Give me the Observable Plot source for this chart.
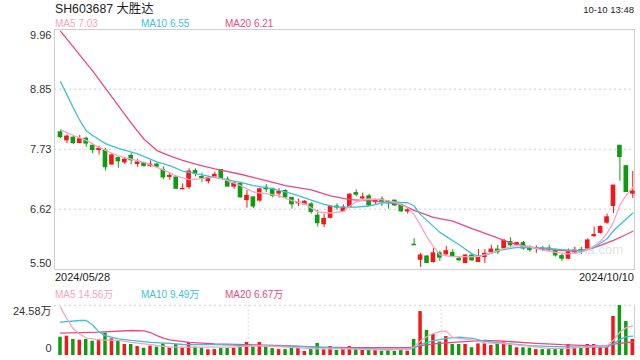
<!DOCTYPE html>
<html><head><meta charset="utf-8">
<script src="https://cdn.jsdelivr.net/npm/d3@7"></script>
<script src="https://cdn.jsdelivr.net/npm/@observablehq/plot@0.6"></script>
<style>
body{margin:0;background:#fff;font-family:"Liberation Sans",Arial,"Noto Sans CJK SC",sans-serif;}
#c{position:relative;width:640px;height:360px;overflow:hidden;background:#fff;}
.t{position:absolute;white-space:nowrap;line-height:1;}
svg{position:absolute;left:0;}
</style></head><body><div id="c"></div>
<script>
// ---------- data ----------
const title = "SH603687 大胜达";
const stamp = "10-10 13:48";
const dateLabels = ["2024/05/28", "2024/10/10"];
const maNames = ["MA5", "MA10", "MA20"];
const maLast = [7.03, 6.55, 6.21];
const volMaLast = [14.56, 9.49, 6.67];
const priceTicks = [9.96, 8.85, 7.73, 6.62, 5.50];
const volTicks = [0, 24.58];
const volGridIdx = [29.2, 59.2];
const watermark = "sina.com";

const opens = [8.05,7.90,7.95,7.85,7.93,7.80,7.72,7.71,7.45,7.57, 7.49,7.61,7.46,7.48,7.42,7.45,7.35,7.22,7.21,6.99, 7.03,7.33,7.22,7.14,7.21,7.35,7.17,7.04,7.09,6.79, 6.84,6.78,7.02,7.00,6.91,6.96,6.83,6.73,6.71,6.71, 6.50,6.34,6.46,6.67,6.58,6.66,6.92,6.82,6.86,6.75, 6.80,6.76,6.78,6.68,6.58,5.96,5.68,5.74,5.64,5.80, 5.78,5.81,5.70,5.62,5.76,5.64,5.73,5.82,5.87,5.89, 6.01,5.96,5.99,5.89,5.88,5.89,5.89,5.85,5.75,5.70, 5.82,5.86,5.89,6.12,6.18,6.37,6.68,7.80,7.42,6.91];
const highs = [8.08,8.00,7.97,7.99,7.96,7.81,7.79,7.75,7.66,7.59, 7.58,7.66,7.55,7.49,7.52,7.47,7.41,7.30,7.23,7.09, 7.37,7.37,7.29,7.23,7.31,7.35,7.22,7.13,7.12,6.97, 6.85,7.01,7.08,7.00,7.00,6.98,6.84,6.81,6.78,6.74, 6.60,6.53,6.68,6.72,6.70,6.91,6.98,6.92,6.90,6.81, 6.85,6.78,6.79,6.70,6.65,6.07,5.80,5.76,5.89,5.84, 5.93,5.87,5.72,5.77,5.78,5.87,5.87,5.95,5.95,6.06, 6.09,6.01,6.02,5.94,5.94,5.93,5.95,5.88,5.78,5.88, 5.91,5.91,6.07,6.29,6.31,6.53,7.06,7.80,7.43,7.32];
const lows = [7.93,7.84,7.82,7.84,7.77,7.65,7.63,7.33,7.44,7.38, 7.45,7.45,7.40,7.41,7.40,7.39,7.17,7.16,6.99,6.99, 6.99,7.22,7.11,7.09,7.19,7.17,7.03,6.99,6.83,6.64, 6.63,6.75,6.93,6.83,6.83,6.82,6.62,6.67,6.70,6.53, 6.29,6.28,6.44,6.60,6.57,6.65,6.85,6.80,6.67,6.71, 6.67,6.62,6.67,6.56,6.53,5.95,5.54,5.61,5.62,5.65, 5.77,5.72,5.65,5.61,5.65,5.63,5.61,5.79,5.78,5.88, 5.92,5.94,5.86,5.82,5.80,5.83,5.83,5.73,5.65,5.69, 5.78,5.78,5.86,6.10,6.16,6.34,6.54,7.14,6.94,6.82];
const closes = [7.96,7.97,7.85,7.92,7.84,7.72,7.74,7.40,7.62,7.51, 7.54,7.53,7.49,7.42,7.45,7.41,7.21,7.24,7.00,7.00, 7.32,7.28,7.20,7.20,7.26,7.19,7.04,7.10,6.84,6.87, 6.67,6.99,6.99,6.87,6.94,6.84,6.71,6.74,6.76,6.57, 6.36,6.44,6.66,6.65,6.65,6.89,6.89,6.84,6.69,6.78, 6.76,6.73,6.69,6.58,6.60,5.95,5.76,5.62,5.80,5.72, 5.84,5.74,5.67,5.76,5.67,5.74,5.79,5.87,5.82,6.03, 5.95,5.99,5.89,5.86,5.90,5.87,5.87,5.76,5.70,5.82, 5.85,5.84,6.04,6.14,6.29,6.47,7.06,7.59,6.94,6.95];
const volumes = [9.0,9.5,7.9,7.5,7.9,7.0,7.7,11.0,8.2,7.0, 5.4,5.4,4.4,3.6,4.6,4.1,5.7,3.6,5.4,3.6, 6.4,4.1,3.6,2.8,2.9,3.4,3.4,3.6,5.1,6.4, 4.1,6.4,4.1,3.4,2.9,2.9,3.9,3.6,2.0,2.9, 5.9,2.9,4.4,2.5,2.9,4.4,2.9,2.5,2.9,2.5, 2.0,2.5,2.0,2.5,2.1,7.9,21.6,12.3,10.3,6.6, 9.3,5.4,5.4,5.4,3.8,5.7,5.7,4.9,5.7,6.2, 5.4,3.8,3.8,3.6,2.9,2.9,2.9,2.9,2.9,5.4, 3.8,3.8,5.4,5.4,4.1,4.1,19.2,24.58,16.7,7.9];

// moving averages: [index, value]
const ma5Pts = [[0,8.10],[2,7.99],[4,7.90],[6,7.77],[8,7.66],[9,7.61],[11,7.55],[13,7.49],[16,7.35],[18,7.24],[20,7.17],[22,7.19],[24,7.22],[26,7.15],[28,7.06],[30,6.94],[32,6.91],[34,6.87],[36,6.78],[38,6.72],[40,6.57],[42,6.55],[44,6.58],[45,6.68],[46,6.76],[48,6.81],[50,6.80],[52,6.75],[54,6.65],[55,6.52],[56,6.32],[57,6.10],[58,5.93],[59,5.77],[61,5.74],[63,5.74],[65,5.74],[67,5.81],[69,5.89],[71,5.95],[73,5.92],[75,5.86],[77,5.82],[79,5.79],[81,5.82],[82,5.87],[83,5.94],[84,6.03],[85,6.17],[86,6.38],[87,6.70],[88,6.88],[89,7.03]];
const ma10Pts = [[0,8.99],[1,8.75],[2,8.50],[3,8.27],[4,8.08],[5,7.99],[7,7.84],[9,7.75],[12,7.65],[15,7.50],[17,7.43],[19,7.33],[21,7.28],[24,7.21],[28,7.12],[30,7.06],[33,7.00],[36,6.91],[39,6.79],[41,6.71],[43,6.66],[46,6.66],[48,6.68],[50,6.74],[52,6.75],[54,6.74],[55,6.68],[56,6.52],[59,6.19],[62,5.96],[64,5.79],[65,5.75],[67,5.80],[68,5.85],[71,5.91],[75,5.90],[78,5.87],[81,5.85],[83,5.91],[85,6.07],[86,6.22],[87,6.33],[89,6.55]];
const ma20Pts = [[0,9.93],[5,9.19],[11,8.22],[13,7.92],[15,7.71],[17,7.61],[19,7.53],[21,7.46],[24,7.37],[28,7.27],[32,7.15],[35,7.06],[39,6.98],[42,6.87],[45,6.80],[49,6.77],[53,6.71],[55,6.60],[58,6.47],[61,6.40],[64,6.26],[67,6.13],[69,6.04],[71,5.96],[74,5.90],[77,5.86],[80,5.84],[82,5.87],[84,5.95],[86,6.04],[88,6.15],[89,6.21]];
const vma5Pts = [[0,23.7],[1,18.0],[2,13.1],[3,10.5],[4,8.7],[6,7.7],[9,7.4],[11,6.5],[14,5.3],[17,4.1],[22,4.1],[27,4.1],[29,4.6],[31,4.9],[35,4.1],[40,3.3],[45,3.3],[50,2.7],[54,3.0],[55,4.3],[56,7.2],[57,9.3],[58,10.8],[59,11.7],[60,12.0],[61,8.8],[64,7.6],[66,6.2],[69,5.8],[72,4.9],[76,3.5],[79,3.5],[81,4.0],[83,4.6],[85,4.8],[86,7.6],[87,11.5],[88,13.7],[89,14.56]];
const vma10Pts = [[0,16.4],[3,17.2],[4,17.2],[5,15.0],[6,11.5],[7,9.8],[9,8.2],[11,7.4],[14,6.5],[17,6.0],[19,5.4],[24,5.3],[29,4.9],[35,4.6],[40,4.1],[45,3.5],[51,3.0],[54,3.0],[55,3.6],[56,5.4],[57,6.3],[58,7.3],[59,7.8],[60,8.4],[62,9.0],[64,8.4],[66,7.0],[69,6.0],[73,4.9],[77,4.4],[82,4.1],[85,4.1],[86,5.7],[87,7.9],[88,9.25],[89,9.49]];
const vma20Pts = [[0,11.0],[6,11.5],[11,12.3],[13,12.1],[14,11.3],[15,9.8],[16,8.5],[17,7.7],[20,6.5],[24,5.7],[29,5.3],[35,4.9],[40,4.1],[46,3.8],[54,3.8],[55,4.1],[56,4.9],[58,5.7],[61,6.5],[66,7.4],[69,7.0],[74,6.0],[78,5.3],[82,4.9],[85,4.9],[86,5.6],[87,6.0],[88,6.4],[89,6.67]];

// ---------- styles ----------
const RED = "#f01818", GREEN = "#0f9c10";
const maColors = ["#f7a3c2", "#3cc0de", "#ea4a80"];
const font = '"Liberation Sans", Arial, "Noto Sans CJK SC", sans-serif';
const xDomain = [-0.93, 89.27];

const candles = opens.map((o, i) => ({
  i, o, h: highs[i], l: lows[i], c: closes[i], v: volumes[i],
  col: closes[i] >= o ? RED : GREEN
}));
const toPts = a => a.map(([i, v]) => ({i, v}));

const root = document.getElementById("c");
function txt(s, x, y, size, color, right) {
  const d = document.createElement("div");
  d.className = "t";
  d.textContent = s;
  d.style.fontSize = size + "px";
  d.style.color = color;
  d.style.top = (y - size / 2) + "px";
  if (right) d.style.right = (640 - x) + "px"; else d.style.left = x + "px";
  root.appendChild(d);
}

// watermark under the chart
txt(watermark, 623, 249, 13, "#e3e3e3", true);

const [pTop, , , , pBot] = priceTicks;
const mainPlot = Plot.plot({
  width: 640, height: 251,
  marginLeft: 54, marginRight: 6, marginTop: 5, marginBottom: 6,
  x: {domain: xDomain, axis: null},
  y: {domain: [pBot, pTop], axis: null},
  color: {type: "identity"},
  style: {background: "transparent", fontFamily: font, fontSize: "11px", color: "#333", overflow: "visible"},
  marks: [
    Plot.ruleY(priceTicks.slice(1, -1), {stroke: "#dcdcdc", strokeWidth: 1.5, strokeDasharray: "2,3"}),
    Plot.frame({stroke: "#cfcfcf"}),
    Plot.ruleX(candles, {x: "i", y1: "l", y2: "h", stroke: "col", strokeWidth: 1}),
    Plot.rect(candles, {
      x1: d => d.i - 0.36, x2: d => d.i + 0.36,
      y1: d => Math.min(d.o, d.c), y2: d => Math.max(d.o, d.c),
      fill: "col", insetTop: -0.5, insetBottom: -0.5
    }),
    Plot.line(toPts(ma20Pts), {x: "i", y: "v", stroke: maColors[2], strokeWidth: 1.3}),
    Plot.line(toPts(ma10Pts), {x: "i", y: "v", stroke: maColors[1], strokeWidth: 1.3}),
    Plot.line(toPts(ma5Pts), {x: "i", y: "v", stroke: maColors[0], strokeWidth: 1.3}),
    Plot.text([pTop], {y: d => d, text: d => d.toFixed(2), frameAnchor: "left", textAnchor: "end", dx: -3, dy: 6, fill: "#333"}),
    Plot.text(priceTicks.slice(1, -1), {y: d => d, text: d => d.toFixed(2), frameAnchor: "left", textAnchor: "end", dx: -3, fill: "#333"}),
    Plot.text([pBot], {y: d => d, text: d => d.toFixed(2), frameAnchor: "left", textAnchor: "end", dx: -3, dy: -6, fill: "#333"})
  ]
});
mainPlot.style.top = "24px";
root.appendChild(mainPlot);

const [vMin, vMax] = volTicks;
const volPlot = Plot.plot({
  width: 640, height: 60,
  marginLeft: 54, marginRight: 6, marginTop: 5, marginBottom: 5,
  x: {domain: xDomain, axis: null},
  y: {domain: [vMin, vMax], axis: null},
  color: {type: "identity"},
  style: {background: "transparent", fontFamily: font, fontSize: "11px", color: "#333", overflow: "visible"},
  marks: [
    Plot.ruleY([vMax], {stroke: "#dcdcdc", strokeWidth: 1.5, strokeDasharray: "2,3"}),
    Plot.ruleX(volGridIdx, {stroke: "#dcdcdc", strokeWidth: 1, strokeDasharray: "2,2"}),
    Plot.ruleX([xDomain[1]], {stroke: "#cfcfcf"}),
    Plot.rect(candles, {x1: d => d.i - 0.27, x2: d => d.i + 0.27, y1: 0, y2: "v", fill: "col"}),
    Plot.line(toPts(vma20Pts), {x: "i", y: "v", stroke: maColors[2], strokeWidth: 1.3}),
    Plot.line(toPts(vma10Pts), {x: "i", y: "v", stroke: maColors[1], strokeWidth: 1.3}),
    Plot.line(toPts(vma5Pts), {x: "i", y: "v", stroke: maColors[0], strokeWidth: 1.3}),
    Plot.text([vMax], {y: d => d, text: d => d + "万", frameAnchor: "left", textAnchor: "end", dx: -3, dy: 6, fill: "#333"}),
    Plot.text([vMin], {y: d => d, text: d => String(d), frameAnchor: "left", textAnchor: "end", dx: -3, dy: -7, fill: "#333"})
  ]
});
volPlot.style.top = "300px";
root.appendChild(volPlot);

// header texts
txt(title, 55, 9, 12.3, "#222");
txt(stamp, 634, 10, 9.5, "#222", true);
const legX = [55, 141, 225];
maNames.forEach((n, k) => {
  txt(n + " " + maLast[k].toFixed(2), legX[k], 24, 10, maColors[k]);
  txt(n + " " + volMaLast[k].toFixed(2) + "万", legX[k], 295, 10, maColors[k]);
});
txt(dateLabels[0], 55, 277.5, 11, "#222");
txt(dateLabels[1], 634, 277.5, 11, "#222", true);
</script>
</body></html>
